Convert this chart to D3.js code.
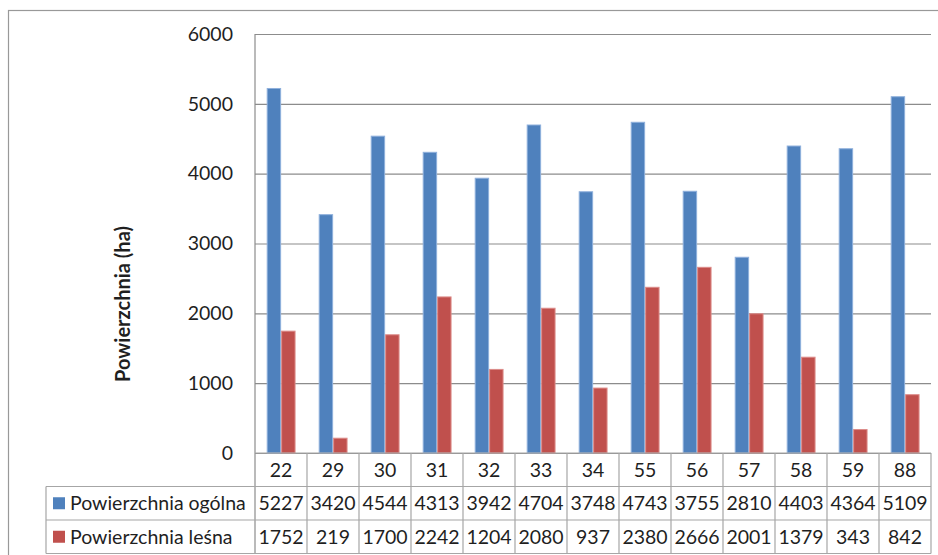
<!DOCTYPE html>
<html>
<head>
<meta charset="utf-8">
<script src="https://cdn.jsdelivr.net/npm/d3@7"></script>
<style>
  html, body { margin: 0; padding: 0; background: #fff; }
  svg { display: block; font-family: Lato, "Open Sans", sans-serif; }
</style>
</head>
<body>
<svg id="chart" width="938" height="555"></svg>
<script>
// Area per forest district (ha)
const categories = ["22", "29", "30", "31", "32", "33", "34", "55", "56", "57", "58", "59", "88"];
const seriesNames = ["Powierzchnia ogólna", "Powierzchnia leśna"];
const totalArea = [5227, 3420, 4544, 4313, 3942, 4704, 3748, 4743, 3755, 2810, 4403, 4364, 5109];
const forestArea = [1752, 219, 1700, 2242, 1204, 2080, 937, 2380, 2666, 2001, 1379, 343, 842];
const yTicks = [0, 1000, 2000, 3000, 4000, 5000, 6000];
const yTitle = "Powierzchnia (ha)";

const seriesValues = [totalArea, forestArea];
const colors = ["#4F81BD", "#C0504D"];
const edgeColors = ["#8fb0dc", "#dc8b89"];

const svg = d3.select("#chart");
const plot = { left: 255, right: 931, top: 34, bottom: 453 };
const rowH = 33.5;
const legendLeft = 46;
const gridColor = "#8c8c8c";
const tableColor = "#a6a6a6";
const textColor = "#1f1f1f";
const fontSize = 19.5;

// Outer chart frame
svg.append("rect")
  .attr("x", 8.5).attr("y", 10.5)
  .attr("width", 1000).attr("height", 1000)
  .attr("fill", "none").attr("stroke", "#999").attr("stroke-width", 1.2);

const x = d3.scaleBand().domain(categories).range([plot.left, plot.right]).padding(0);
const xs = d3.scaleBand().domain(d3.range(seriesNames.length))
  .range([x.bandwidth() * 0.225, x.bandwidth() * 0.78]).padding(0);
const y = d3.scaleLinear().domain([0, 6000]).range([plot.bottom, plot.top]);

// Gridlines and value axis
const yAxis = d3.axisLeft(y).tickValues(yTicks).tickSize(-(plot.right - plot.left)).tickPadding(22).tickFormat(d3.format("d"));
const gy = svg.append("g").attr("transform", `translate(${plot.left},0)`).call(yAxis);
gy.select(".domain").remove();
gy.selectAll(".tick line").attr("stroke", gridColor).attr("stroke-width", 1.2);
gy.selectAll(".tick text")
  .attr("fill", textColor).attr("font-size", fontSize).attr("font-family", "Lato, sans-serif");

// Left edge of the plot area
svg.append("line")
  .attr("x1", plot.left).attr("x2", plot.left)
  .attr("y1", plot.top).attr("y2", plot.bottom + rowH * 3)
  .attr("stroke", gridColor).attr("stroke-width", 1.2);

// Bars
const groups = svg.append("g").selectAll("g")
  .data(categories).join("g")
  .attr("transform", d => `translate(${x(d)},0)`);

groups.selectAll("rect")
  .data((d, i) => seriesValues.map((vals, s) => ({ s, v: vals[i] })))
  .join("rect")
  .attr("x", d => xs(d.s) + 0.5)
  .attr("width", xs.bandwidth() - 1)
  .attr("y", d => y(d.v) + 0.5)
  .attr("height", d => y(0) - y(d.v) - 0.5)
  .attr("fill", d => colors[d.s])
  .attr("stroke", d => edgeColors[d.s])
  .attr("stroke-width", 1);

// Axis title
svg.append("text")
  .attr("transform", "translate(130,304) rotate(-90)")
  .attr("text-anchor", "middle")
  .attr("font-size", 20).attr("font-weight", "bold")
  .attr("fill", textColor)
  .text(yTitle);

// Data table below the plot
const table = svg.append("g");
const rowsY = [plot.bottom, plot.bottom + rowH, plot.bottom + rowH * 2, plot.bottom + rowH * 3];

// horizontal borders
table.append("line").attr("x1", plot.left).attr("x2", plot.right)
  .attr("y1", rowsY[0]).attr("y2", rowsY[0]);
[1, 2, 3].forEach(r => {
  table.append("line").attr("x1", legendLeft).attr("x2", plot.right)
    .attr("y1", rowsY[r]).attr("y2", rowsY[r]);
});
// vertical borders
categories.forEach(c => {
  table.append("line").attr("x1", x(c) + x.bandwidth()).attr("x2", x(c) + x.bandwidth())
    .attr("y1", rowsY[0]).attr("y2", rowsY[3]);
});
table.append("line").attr("x1", legendLeft).attr("x2", legendLeft)
  .attr("y1", rowsY[1]).attr("y2", rowsY[3]);
table.selectAll("line").attr("stroke", tableColor).attr("stroke-width", 1.2);

// category labels
table.selectAll("text.cat").data(categories).join("text")
  .attr("class", "cat")
  .attr("x", d => x(d) + x.bandwidth() / 2)
  .attr("y", rowsY[0] + rowH / 2)
  .attr("dy", "0.36em").attr("text-anchor", "middle")
  .attr("font-size", fontSize).attr("fill", textColor)
  .text(d => d);

// series rows
seriesNames.forEach((name, s) => {
  const cy = rowsY[s + 1] + rowH / 2;
  table.append("rect")
    .attr("x", 53).attr("y", cy - 6).attr("width", 12).attr("height", 12)
    .attr("fill", colors[s]);
  table.append("text")
    .attr("x", 70).attr("y", cy).attr("dy", "0.36em")
    .attr("font-size", fontSize).attr("fill", textColor)
    .text(name);
  table.selectAll(`text.v${s}`).data(seriesValues[s]).join("text")
    .attr("class", `v${s}`)
    .attr("x", (d, i) => x(categories[i]) + x.bandwidth() / 2)
    .attr("y", cy).attr("dy", "0.36em").attr("text-anchor", "middle")
    .attr("font-size", fontSize).attr("fill", textColor)
    .text(d => d);
});
</script>
</body>
</html>
